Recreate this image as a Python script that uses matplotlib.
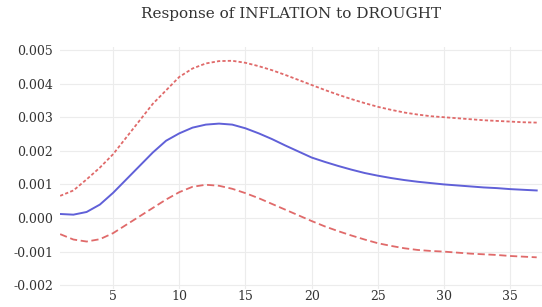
import numpy as np
import matplotlib.pyplot as plt

# impulse response periods and values
periods = np.arange(1, 38)
response = [0.00012, 0.0001, 0.00018, 0.0004, 0.00075, 0.00115, 0.00155, 0.00195, 0.0023, 0.00252,
            0.00269, 0.00278, 0.00281, 0.00278, 0.00267, 0.00252, 0.00235, 0.00216, 0.00198, 0.0018,
            0.00167, 0.00155, 0.00144, 0.00134, 0.00126, 0.00119, 0.00113, 0.00108, 0.00104, 0.001,
            0.00097, 0.00094, 0.00091, 0.00089, 0.00086, 0.00084, 0.00082]
upper = [0.00066, 0.00082, 0.00115, 0.0015, 0.0019, 0.0024, 0.0029, 0.0034, 0.0038, 0.0042,
         0.00445, 0.0046, 0.00467, 0.00468, 0.00462, 0.00452, 0.0044, 0.00426, 0.00411, 0.00396,
         0.00381, 0.00367, 0.00354, 0.00342, 0.00331, 0.00322, 0.00314, 0.00308, 0.00303, 0.003,
         0.00297, 0.00294, 0.00291, 0.00289, 0.00287, 0.00285, 0.00284]
lower = [-0.00048, -0.00064, -0.0007, -0.00063, -0.00045, -0.0002, 0.00005, 0.0003, 0.00055, 0.00077,
         0.00093, 0.00099, 0.00096, 0.00087, 0.00074, 0.00059, 0.00042, 0.00025, 0.00008, -0.00009,
         -0.00025, -0.00039, -0.00052, -0.00064, -0.00075, -0.00083, -0.0009, -0.00095, -0.00098, -0.001,
         -0.00103, -0.00106, -0.00108, -0.0011, -0.00113, -0.00115, -0.00117]
xticks = [5, 10, 15, 20, 25, 30, 35]
yticks = [-0.002, -0.001, 0.0, 0.001, 0.002, 0.003, 0.004, 0.005]

plt.rcParams['font.family'] = 'DejaVu Serif'

fig = plt.figure(figsize=(5.42, 3.07), dpi=100)
ax = fig.add_axes([0.111, 0.06, 0.889, 0.788])

ax.plot(periods, response, color='#6060d8', linewidth=1.4)
ax.plot(periods, upper, color='#e06a6a', linewidth=1.3, linestyle=(0, (1.8, 1.2)))
ax.plot(periods, lower, color='#e06a6a', linewidth=1.3, linestyle=(0, (4, 2)))

ax.set_xlim(1, 37.4)
ax.set_ylim(-0.0021, 0.0051)
ax.set_xticks(xticks)
ax.set_yticks(yticks)
ax.set_yticklabels(['%.3f' % v for v in yticks])
ax.grid(True, color='#ececec', linewidth=0.8)
ax.set_axisbelow(True)
for s in ax.spines.values():
    s.set_visible(False)
ax.tick_params(length=0, labelsize=9, colors='#333333')
ax.tick_params(axis='y', pad=5)
ax.tick_params(axis='x', pad=1)

fig.text(0.537, 0.955, 'Response of INFLATION to DROUGHT', ha='center', va='center',
         fontsize=11, color='#333333')

fig.savefig('out.png', dpi=100)
